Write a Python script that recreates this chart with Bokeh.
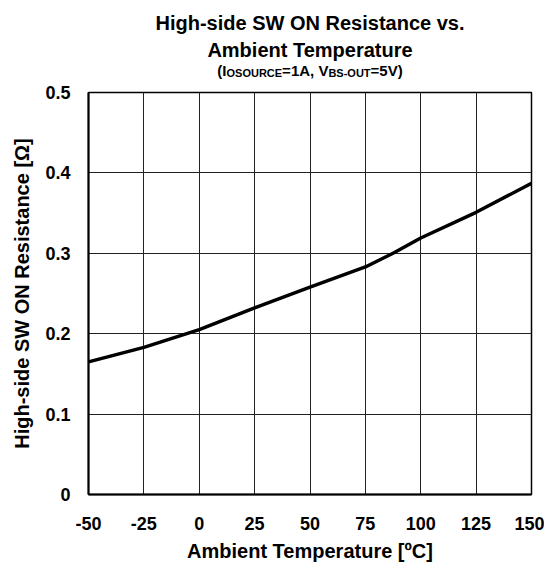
from bokeh.plotting import figure
from bokeh.models import FixedTicker, Range1d
from bokeh.layouts import column
from bokeh.core.properties import value
from bokeh.embed import file_html
from bokeh.resources import INLINE

# ---- data ----
temperature = [-50, -25, 0, 25, 50, 75, 87.5, 100, 125, 150]
resistance = [0.165, 0.183, 0.205, 0.232, 0.258, 0.283, 0.300, 0.319, 0.351, 0.387]

x_ticks = [-50, -25, 0, 25, 50, 75, 100, 125, 150]
x_tick_labels = ["-50", "-25", "0", "25", "50", "75", "100", "125", "150"]
y_ticks = [0, 0.1, 0.2, 0.3, 0.4, 0.5]
y_tick_labels = ["0", "0.1", "0.2", "0.3", "0.4", "0.5"]

title_line1 = "High-side SW ON Resistance vs."
title_line2 = "Ambient Temperature"
subtitle_parts = [("(I", False), ("OSOURCE", True), ("=1A, V", False), ("BS-OUT", True), ("=5V)", False)]
x_label = "Ambient Temperature [ºC]"
y_label = "High-side SW ON Resistance [Ω]"

FONT = "Liberation Sans"
W = 544
HH = 84                      # header height
H = 571 - HH
FL, FT, FR, FB = 88, 8, 13, 77
FW = W - FL - FR
SHIFT = 6                    # header text vertical correction (px)

# ---- header with titles (frame aligned with the chart frame) ----
hdr = figure(width=W, height=HH, output_backend="svg", toolbar_location=None,
             x_range=Range1d(FL, W - FR), y_range=Range1d(0, HH),
             x_axis_location=None, y_axis_location=None,
             min_border_left=FL, min_border_right=FR, min_border_top=0, min_border_bottom=0)
hdr.title = None
hdr.outline_line_color = None
hdr.xgrid.visible = False
hdr.ygrid.visible = False
hdr.background_fill_color = "white"
hdr.border_fill_color = "white"

cx = FL + FW / 2
hdr.text(x=[cx, cx], y=[HH - 28 + SHIFT, HH - 55 + SHIFT], text=[title_line1, title_line2],
         text_align="center", text_baseline="alphabetic", text_font=value(FONT),
         text_font_style="bold", text_font_size=value("20px"), text_color="black")

CW = {'(': 333, ')': 333, 'I': 278, 'O': 778, 'S': 667, 'U': 722, 'R': 722, 'C': 722, 'E': 667,
      '=': 584, '1': 556, 'A': 722, ',': 278, ' ': 278, 'V': 667, 'B': 722, '-': 333, 'T': 611, '5': 556}
MAIN, SUB = 15, 11
def tw(s, size):
    return sum(CW.get(c, 556) for c in s) / 1000 * size
total = sum(tw(t, SUB if s else MAIN) for t, s in subtitle_parts)
xx = cx - total / 2
base = 76
for t, s in subtitle_parts:
    size = SUB if s else MAIN
    hdr.text(x=[xx], y=[HH - (base + (2 if s else 0)) + SHIFT], text=[t],
             text_align="left", text_baseline="alphabetic", text_font=value(FONT),
             text_font_style="bold", text_font_size=value(f"{size}px"), text_color="black")
    xx += tw(t, size)

# ---- main chart ----
p = figure(width=W, height=H, output_backend="svg", toolbar_location=None,
           x_range=Range1d(-50, 150), y_range=Range1d(0, 0.5),
           min_border_left=FL, min_border_top=FT, min_border_right=FR, min_border_bottom=FB)
p.title = None
p.background_fill_color = "white"
p.border_fill_color = "white"
p.outline_line_color = "black"
p.outline_line_width = 1.5

p.xaxis.ticker = FixedTicker(ticks=x_ticks)
p.yaxis.ticker = FixedTicker(ticks=y_ticks)
p.xaxis.major_label_overrides = {t: l for t, l in zip(x_ticks, x_tick_labels)}
p.yaxis.major_label_overrides = {t: l for t, l in zip(y_ticks, y_tick_labels)}

for ax in (p.xaxis, p.yaxis):
    ax.major_tick_out = 0
    ax.major_tick_in = 0
    ax.minor_tick_out = 0
    ax.minor_tick_in = 0
    ax.axis_line_color = "black"
    ax.axis_line_width = 2
    ax.major_label_text_font = FONT
    ax.major_label_text_font_style = "bold"
    ax.major_label_text_font_size = "18px"
    ax.major_label_text_color = "black"
    ax.axis_label_text_font = FONT
    ax.axis_label_text_font_style = "bold"
    ax.axis_label_text_font_size = "20px"
    ax.axis_label_text_color = "black"

p.xaxis.axis_label = x_label
p.yaxis.axis_label = y_label
p.xaxis.major_label_standoff = 22
p.yaxis.major_label_standoff = 18
p.xaxis.axis_label_standoff = 7
p.yaxis.axis_label_standoff = 9

p.xgrid.grid_line_color = "#222222"
p.ygrid.grid_line_color = "#222222"
p.xgrid.grid_line_width = 1
p.ygrid.grid_line_width = 1

p.line(temperature, resistance, line_color="black", line_width=3.5)

layout = column(hdr, p, spacing=0)
open("out.html", "w").write(file_html(layout, INLINE))
